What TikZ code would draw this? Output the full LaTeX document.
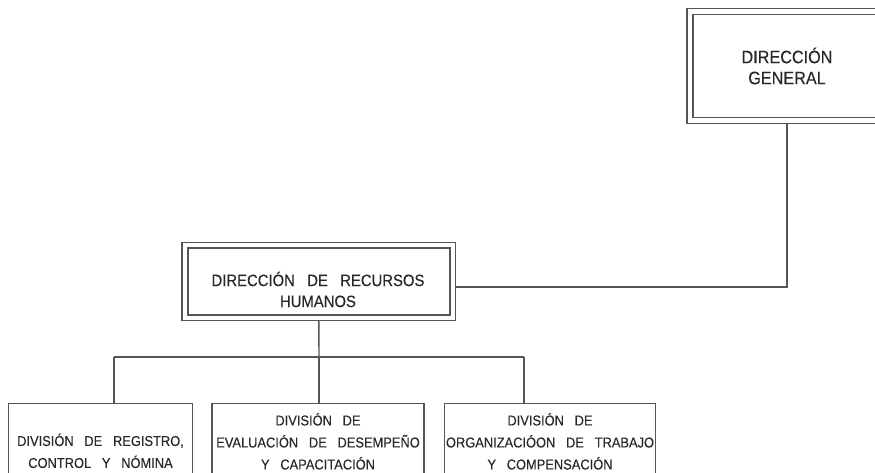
\documentclass[tikz,border=0pt]{standalone}
\usepackage{fontspec}
\setmainfont{Liberation Sans}[FakeStretch=0.9, WordSpace=3, FakeBold=0.3]
\usetikzlibrary{calc}
\pgfdeclarelayer{background}
\pgfsetlayers{background,main}

\definecolor{linegray}{RGB}{85,85,85}
\definecolor{textgray}{RGB}{40,40,40}

\begin{document}
\begin{tikzpicture}[x=1pt,y=-1pt,
  every node/.style={text=textgray, align=center, inner sep=0pt},
  dbox/.style={draw=linegray, line width=1.7pt, double=white, double distance=4.1pt},
  sbox/.style={draw=linegray, line width=1.4pt},
  link/.style={draw=linegray, line width=1.4pt},
  tdg/.style={font=\fontsize{18}{21}\selectfont},
  tdrh/.style={font=\fontsize{16.5}{21}\selectfont},
  tdiv/.style={font=\fontsize{14.3}{22}\selectfont}]

\useasboundingbox (0,0) rectangle (875,472);
\clip (0,0) rectangle (875,472);

% top level
\node[dbox, tdg, minimum width=194pt, minimum height=109pt] (dg) at (787,66)
  {DIRECCIÓN\\GENERAL};

% human resources direction
\node[dbox, minimum width=267.6pt, minimum height=72.4pt] (drh) at (318.8,281.5) {};
\node[tdrh] (drhtext) at (318,289.5) {DIRECCIÓN DE RECURSOS\\HUMANOS};

% divisions
\node[sbox, tdiv, minimum width=184.5pt, minimum height=95pt, anchor=north] (div1)
  at (100.5,402.6) {DIVISIÓN DE REGISTRO,\\CONTROL Y NÓMINA};
\node[sbox, tdiv, minimum width=212pt, minimum height=76pt, anchor=north] (div2)
  at (318,402.6) {DIVISIÓN DE\\EVALUACIÓN DE DESEMPEÑO\\Y CAPACITACIÓN};
\node[sbox, tdiv, minimum width=211pt, minimum height=76pt, anchor=north] (div3)
  at (550,402.6) {DIVISIÓN DE\\ORGANIZACIÓON DE TRABAJO\\Y COMPENSACIÓN};

% connectors
\begin{pgfonlayer}{background}
  \coordinate (elbow) at (787,287);
  \coordinate (bus) at (319,357);
  \coordinate (busL) at (114,357);
  \coordinate (busR) at (524,357);
  \draw[link] (dg.south) -- (elbow) -- (elbow -| drh.east);
  \draw[link] (drh.south) -- (bus);
  \draw[link] (busL) -- (busR);
  \draw[link] (busL) -- (busL |- div1.north);
  \draw[link] (bus) -- (bus |- div2.north);
  \draw[link] (busR) -- (busR |- div3.north);
\end{pgfonlayer}
\end{tikzpicture}
\end{document}
